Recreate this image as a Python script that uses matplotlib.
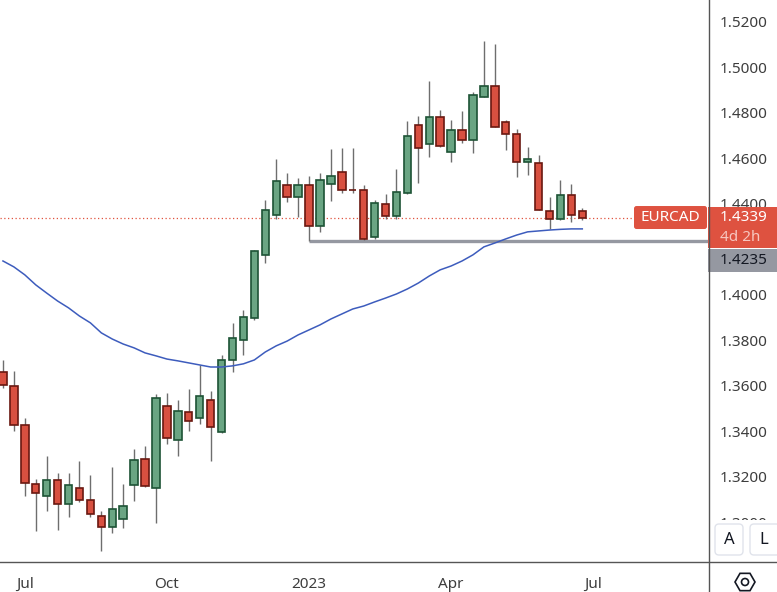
import numpy as np
import pandas as pd
import matplotlib.pyplot as plt
from matplotlib.patches import FancyBboxPatch, RegularPolygon, Circle, Rectangle
from matplotlib.lines import Line2D
from matplotlib.transforms import IdentityTransform

plt.rcParams['font.family'] = ['Noto Sans', 'DejaVu Sans']

# EURCAD weekly candles, week starting 2022-06-20
opens = [1.3662, 1.3597, 1.3426, 1.3167, 1.3114, 1.3184, 1.3079, 1.3149, 1.3096, 1.3026,
         1.2978, 1.3013, 1.3162, 1.3276, 1.3149, 1.3509, 1.3360, 1.3483, 1.3457, 1.3536,
         1.3395, 1.3712, 1.3800, 1.3896, 1.4173, 1.4349, 1.4481, 1.4428, 1.4481, 1.4301,
         1.4485, 1.4538, 1.4462, 1.4459, 1.4252, 1.4397, 1.4345, 1.4446, 1.4745, 1.4661,
         1.4780, 1.4626, 1.4723, 1.4679, 1.4868, 1.4916, 1.4758, 1.4705, 1.4582, 1.4578,
         1.4367, 1.4331, 1.4437, 1.4367]
highs = [1.3713, 1.3665, 1.3457, 1.3190, 1.3291, 1.3216, 1.3216, 1.3269, 1.3207, 1.3049,
         1.3243, 1.3168, 1.3322, 1.3335, 1.3564, 1.3568, 1.3537, 1.3586, 1.3691, 1.3577,
         1.3735, 1.3876, 1.3933, 1.4196, 1.4416, 1.4596, 1.4535, 1.4513, 1.4522, 1.4534,
         1.4640, 1.4645, 1.4645, 1.4481, 1.4415, 1.4441, 1.4551, 1.4762, 1.4784, 1.4938,
         1.4811, 1.4767, 1.4806, 1.4890, 1.5114, 1.5101, 1.4767, 1.4727, 1.4648, 1.4613,
         1.4428, 1.4503, 1.4485, 1.4380]
lows = [1.3591, 1.3402, 1.3117, 1.2963, 1.3051, 1.2967, 1.3024, 1.3090, 1.3024, 1.2875,
        1.2954, 1.2976, 1.3095, 1.3153, 1.2998, 1.3345, 1.3292, 1.3402, 1.3430, 1.3270,
        1.3390, 1.3662, 1.3736, 1.3890, 1.4138, 1.4334, 1.4409, 1.4342, 1.4237, 1.4274,
        1.4410, 1.4446, 1.4446, 1.4240, 1.4244, 1.4331, 1.4331, 1.4443, 1.4492, 1.4604,
        1.4649, 1.4582, 1.4665, 1.4622, 1.4867, 1.4735, 1.4635, 1.4516, 1.4525, 1.4370,
        1.4287, 1.4330, 1.4318, 1.4327]
closes = [1.3602, 1.3426, 1.3171, 1.3127, 1.3184, 1.3079, 1.3162, 1.3096, 1.3035, 1.2978,
          1.3057, 1.3070, 1.3272, 1.3158, 1.3545, 1.3369, 1.3488, 1.3444, 1.3553, 1.3417,
          1.3712, 1.3808, 1.3901, 1.4191, 1.4371, 1.4498, 1.4428, 1.4481, 1.4301, 1.4503,
          1.4520, 1.4459, 1.4459, 1.4244, 1.4402, 1.4345, 1.4450, 1.4696, 1.4644, 1.4780,
          1.4652, 1.4723, 1.4679, 1.4876, 1.4916, 1.4736, 1.4705, 1.4582, 1.4595, 1.4371,
          1.4331, 1.4437, 1.4349, 1.4339]
moving_avg = [1.4148, 1.4122, 1.4087, 1.4043, 1.4007, 1.3972, 1.3942, 1.3906, 1.3876, 1.3832,
              1.3805, 1.3783, 1.3766, 1.3744, 1.3731, 1.3717, 1.3709, 1.3700, 1.3691, 1.3682,
              1.3682, 1.3687, 1.3696, 1.3713, 1.3748, 1.3775, 1.3796, 1.3823, 1.3845, 1.3867,
              1.3893, 1.3915, 1.3937, 1.3950, 1.3968, 1.3985, 1.4003, 1.4025, 1.4051, 1.4082,
              1.4109, 1.4126, 1.4148, 1.4175, 1.4210, 1.4227, 1.4245, 1.4262, 1.4276, 1.4280,
              1.4284, 1.4287, 1.4289, 1.4289]

symbol = 'EURCAD'
last_price = 1.4339
countdown = '4d 2h'
support_level = 1.4235
support_from_week = 28
price_ticks = [1.30, 1.32, 1.34, 1.36, 1.38, 1.40, 1.42, 1.44, 1.46, 1.48, 1.50, 1.52]
hidden_ticks = [1.42]  # fully covered by the price tags

weeks = pd.date_range('2022-06-20', periods=66, freq='W-MON')

df = pd.DataFrame({'open': opens, 'high': highs, 'low': lows, 'close': closes})
df['x'] = np.arange(len(df))
up = df['close'] >= df['open']

green_fill, green_edge = '#6aa583', '#1d5335'
red_fill, red_edge = '#d85040', '#6a1810'
axis_col = '#555555'
text_col = '#3d3d3d'

W, H = 777, 592
fig = plt.figure(figsize=(W / 100, H / 100), dpi=100)
ax = fig.add_axes([0, 30 / H, 708 / W, 562 / H])
ax.set_xlim(-0.27, 64.5)
ax.set_ylim(1.2825, 1.5295)
for s in ax.spines.values():
    s.set_visible(False)

# wicks + bodies
ax.vlines(df['x'], df['low'], df['high'], color='#6e6e6e', linewidth=1.0, zorder=2)
body_bottom = np.minimum(df['open'], df['close'])
body_height = np.maximum(np.abs(df['close'] - df['open']), 0.0003)
ax.bar(df['x'][up], body_height[up], bottom=body_bottom[up], width=0.68,
       color=green_fill, edgecolor=green_edge, linewidth=1.2, zorder=3)
ax.bar(df['x'][~up], body_height[~up], bottom=body_bottom[~up], width=0.68,
       color=red_fill, edgecolor=red_edge, linewidth=1.2, zorder=3)

ax.plot(df['x'], moving_avg, color='#3d5cbd', linewidth=1.1, zorder=4)

ax.axhline(last_price, color='#e0533f', linestyle=(0, (1, 2)), linewidth=0.9, zorder=1)
ax.hlines(support_level, support_from_week, 64.5, color='#9598a1', linewidth=2.4, zorder=1)

# axes ticks
ax.yaxis.tick_right()
ax.set_yticks(price_ticks)
ax.set_yticklabels(['' if p in hidden_ticks else f'{p:.4f}' for p in price_ticks])
ax.tick_params(axis='y', length=0, pad=8.6, labelsize=11, labelcolor=text_col)

tick_idx = [i for i, d in enumerate(weeks) if d.month in (1, 4, 7, 10) and d.day <= 7]
tick_lab = [str(weeks[i].year) if weeks[i].month == 1 else weeks[i].strftime('%b') for i in tick_idx]
ax.set_xticks(tick_idx)
ax.set_xticklabels(tick_lab)
ax.tick_params(axis='x', length=0, pad=10.5, labelsize=11, labelcolor=text_col)

# overlays in pixel coordinates
fig.canvas.draw()
px = IdentityTransform()


def ypix(price):
    return ax.transData.transform((0, price))[1]


def rbox(x0, y0, w, h, fc, ec='none', r=2.5, lw=0):
    fig.add_artist(FancyBboxPatch((x0, y0), w, h, boxstyle=f'round,pad=0,rounding_size={r}',
                                  transform=px, fc=fc, ec=ec, lw=lw, zorder=5))


yl = ypix(last_price)
# symbol tag at the end of the price line
rbox(634, yl - 11.5, 73, 23, '#de5240')
fig.text(670.5, yl, symbol, transform=px, ha='center', va='center', color='white',
         fontsize=11, fontweight='semibold', zorder=6)
# last price + countdown on price scale
fig.add_artist(Rectangle((708, yl - 30.5), 69, 41, transform=px, fc='#de5240', ec='none', zorder=5))
fig.text(720, yl, f'{last_price:.4f}', transform=px, ha='left', va='center', color='white',
         fontsize=11, zorder=6)
fig.text(720, yl - 19.5, countdown, transform=px, ha='left', va='center', color='#f7c6bf',
         fontsize=11, zorder=6)
# support level tag
ys = yl - 42.5
fig.add_artist(Rectangle((708, ys - 11.5), 69, 23, transform=px, fc='#9598a1', ec='none', zorder=5))
fig.text(720, ys, f'{support_level:.4f}', transform=px, ha='left', va='center', color='#131722',
         fontsize=11, zorder=6)

# bottom-right controls
fig.add_artist(Rectangle((709, 31), 68, 41, transform=px, fc='white', ec='none', zorder=5))
rbox(715, 37, 28, 31, 'white', ec='#e0e3eb', r=4, lw=1)
rbox(750, 37, 30, 31, 'white', ec='#e0e3eb', r=4, lw=1)
fig.text(729, 52.5, 'A', transform=px, ha='center', va='center', color='#131722', fontsize=12, zorder=6)
fig.text(764, 52.5, 'L', transform=px, ha='center', va='center', color='#131722', fontsize=12, zorder=6)
fig.add_artist(RegularPolygon((745, 10), numVertices=6, radius=10, orientation=np.pi / 6,
                              transform=px, fc='none', ec='#131722', lw=1.2, zorder=6))
fig.add_artist(Circle((745, 10), 3.5, transform=px, fc='none', ec='#131722', lw=1.2, zorder=6))

# pane borders
fig.add_artist(Line2D([708.5, 708.5], [0, H], transform=px, color=axis_col, lw=1, zorder=7))
fig.add_artist(Line2D([0, W], [30.5, 30.5], transform=px, color=axis_col, lw=1, zorder=7))

fig.savefig('out.png', dpi=100, facecolor='white')
